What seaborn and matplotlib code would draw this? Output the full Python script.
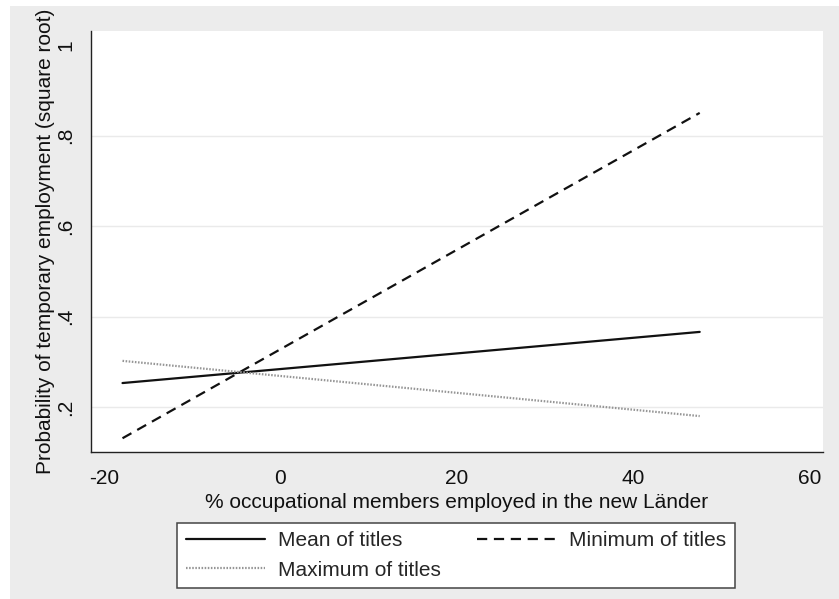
import matplotlib
matplotlib.use("Agg")
import matplotlib.pyplot as plt
import numpy as np
import pandas as pd
import seaborn as sns
from matplotlib.patches import Rectangle
from matplotlib.lines import Line2D

# Predicted values at the observed range of the share of members in the new Länder
share_new_laender = [-17.9, 47.5]
mean_titles = [0.253, 0.366]
minimum_titles = [0.131, 0.850]
maximum_titles = [0.302, 0.180]

series_names = ["Mean of titles", "Minimum of titles", "Maximum of titles"]
x_ticks = [-20, 0, 20, 40, 60]
x_tick_labels = ["-20", "0", "20", "40", "60"]
y_ticks = [0.2, 0.4, 0.6, 0.8, 1.0]
y_tick_labels = [".2", ".4", ".6", ".8", "1"]
x_title = "% occupational members employed in the new Länder"
y_title = "Probability of temporary employment (square root)"

df = pd.DataFrame({
    "share": share_new_laender * 3,
    "prob": mean_titles + minimum_titles + maximum_titles,
    "series": np.repeat(series_names, len(share_new_laender)),
})

sns.set_style("white")
plt.rcParams["font.family"] = ["Liberation Sans", "DejaVu Sans"]

W, H = 839, 599
fig = plt.figure(figsize=(W / 100, H / 100), dpi=100, facecolor="white")
fig.patches.append(Rectangle((10 / W, 0), 1, 1 - 6 / H, transform=fig.transFigure,
                             facecolor="#ececec", edgecolor="none", zorder=-10))

ax = fig.add_axes([91 / W, 1 - 452 / H, (823 - 91) / W, (452 - 31) / H])
ax.set_facecolor("white")

palette = {"Mean of titles": "#111111", "Minimum of titles": "#111111",
           "Maximum of titles": "#959595"}
dashes = {"Mean of titles": "", "Minimum of titles": (4.6, 3.0),
          "Maximum of titles": (0.7, 0.7)}
sns.lineplot(data=df, x="share", y="prob", hue="series", style="series",
             palette=palette, dashes=dashes, linewidth=1.6, legend=False,
             ax=ax, zorder=3)

ax.set_xlim(-21.47, 61.47)
ax.set_ylim(0.1006, 1.031)
ax.set_xticks(x_ticks)
ax.set_xticklabels(x_tick_labels, fontsize=15)
ax.set_yticks(y_ticks)
ax.set_yticklabels(y_tick_labels, fontsize=15, rotation=90, va="center")
ax.tick_params(axis="both", direction="out", length=6.5, width=1.0,
               color="#222222", labelcolor="#111111")
ax.tick_params(axis="x", pad=6)
ax.tick_params(axis="y", pad=5)

for y in y_ticks[:-1]:
    ax.axhline(y, color="#eaeaea", linewidth=1.0, zorder=1)

for side in ["top", "right"]:
    ax.spines[side].set_visible(False)
for side in ["left", "bottom"]:
    ax.spines[side].set_color("#222222")
    ax.spines[side].set_linewidth(1.0)

ax.set_xlabel(x_title, fontsize=15, color="#111111", labelpad=3)
ax.set_ylabel(y_title, fontsize=15, color="#111111", labelpad=1)

handles = [
    Line2D([], [], color=palette[n], linewidth=1.6,
           linestyle=(0, dashes[n]) if dashes[n] else "-")
    for n in series_names
]
order = [0, 2, 1]
leg = ax.legend([handles[i] for i in order], [series_names[i] for i in order],
                ncol=2, loc="center",
                bbox_to_anchor=(456 / W, 1 - 555.5 / H),
                bbox_transform=fig.transFigure,
                fontsize=15, frameon=True, fancybox=False,
                handlelength=3.8, handletextpad=0.62, columnspacing=1.75,
                borderpad=0.42, labelspacing=0.49)
frame = leg.get_frame()
frame.set_edgecolor("#444444")
frame.set_linewidth(1.1)
frame.set_facecolor("white")
frame.set_alpha(1)

fig.savefig("out.png", dpi=100, facecolor=fig.get_facecolor())
